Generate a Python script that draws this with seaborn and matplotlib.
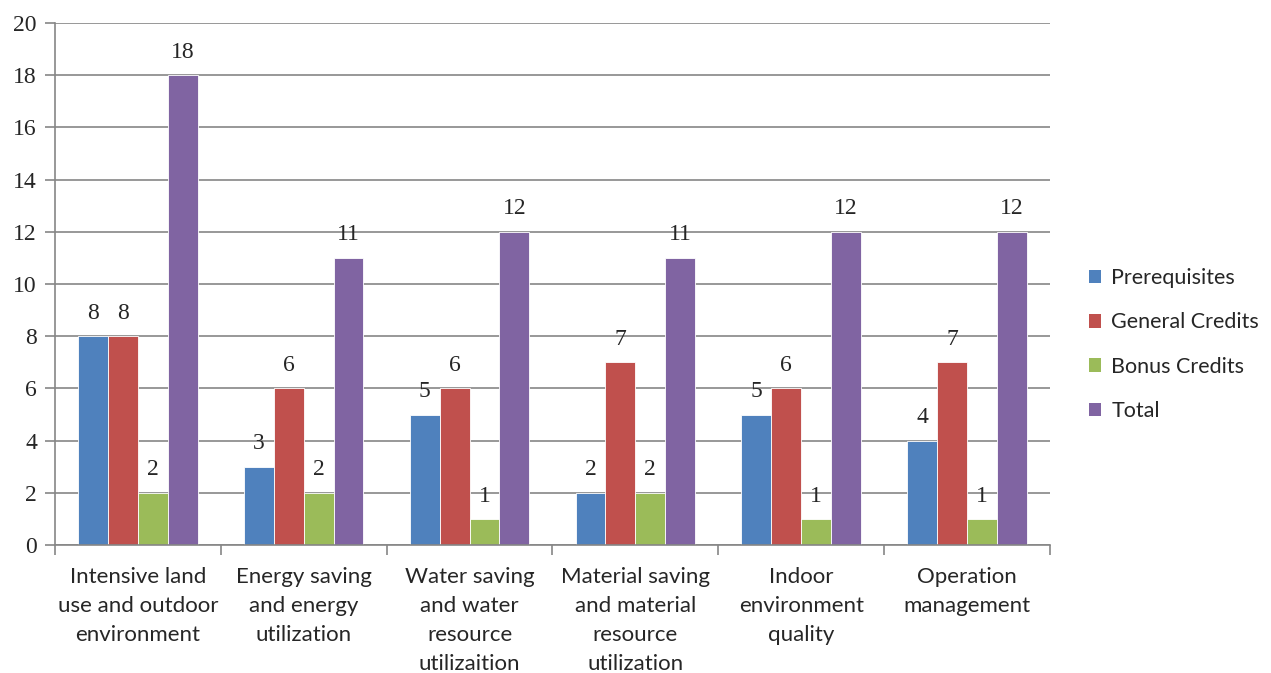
import pandas as pd
import matplotlib.pyplot as plt
import seaborn as sns

# Data
categories = [
    "Intensive land\nuse and outdoor\nenvironment",
    "Energy saving\nand energy\nutilization",
    "Water saving\nand water\nresource\nutilizaition",
    "Material saving\nand material\nresource\nutilization",
    "Indoor\nenvironment\nquality",
    "Operation\nmanagement",
]
series = ["Prerequisites", "General Credits", "Bonus Credits", "Total"]
prerequisites = [8, 3, 5, 2, 5, 4]
general_credits = [8, 6, 6, 7, 6, 7]
bonus_credits = [2, 2, 1, 2, 1, 1]
total = [18, 11, 12, 11, 12, 12]
colors = ["#4f81bd", "#c0504d", "#9bbb59", "#8064a2"]

rows = []
for name, vals in zip(series, [prerequisites, general_credits, bonus_credits, total]):
    for cat, v in zip(categories, vals):
        rows.append({"Category": cat, "Series": name, "Value": v})
df = pd.DataFrame(rows)

sns.set_style("white")
fig = plt.figure(figsize=(12.71, 6.73), dpi=100)
ax = fig.add_axes([0.0433, 0.19, 0.7827, 0.776])

sns.barplot(data=df, x="Category", y="Value", hue="Series", palette=colors,
            width=0.72, gap=0, saturation=1, ax=ax, edgecolor="white", linewidth=0.6)

serif = "Liberation Serif"
sans = "Lato"

# value labels
for cont in ax.containers:
    ax.bar_label(cont, padding=9, fontsize=17, fontfamily=serif)

ax.set_ylim(0, 20)
ax.set_xlim(-0.5, 5.5)
ax.set_yticks(range(0, 21, 2))
ax.set_yticklabels([str(v) for v in range(0, 21, 2)], fontfamily=serif, fontsize=17)
ax.yaxis.grid(True, color="#868686", linewidth=1.2)
ax.set_axisbelow(True)
for s in ["top", "right"]:
    ax.spines[s].set_visible(False)
for s in ["left", "bottom"]:
    ax.spines[s].set_color("#868686")
    ax.spines[s].set_linewidth(1.2)
ax.tick_params(axis="y", length=7, color="#868686", width=1.2, pad=6, left=True)

# category labels centred, tick marks between categories
ax.set_xticks(range(len(categories)))
ax.set_xticklabels(categories, fontfamily=sans, fontsize=16, linespacing=1.55, va="top")
ax.tick_params(axis="x", length=0, pad=16)
ax.set_xticks([i - 0.5 for i in range(len(categories) + 1)], minor=True)
ax.tick_params(axis="x", which="minor", length=7, color="#868686", width=1.2, bottom=True)
ax.set_xlabel("")
ax.set_ylabel("")

leg = ax.legend(loc="center left", bbox_to_anchor=(0.848, 0.488), bbox_transform=fig.transFigure,
                frameon=False, prop={"family": sans, "size": 15.5}, handlelength=0.6,
                handleheight=0.6, handletextpad=0.45, labelspacing=1.13, borderpad=0)
for h in leg.legend_handles:
    h.set_edgecolor("none")

fig.savefig("out.png", dpi=100)
